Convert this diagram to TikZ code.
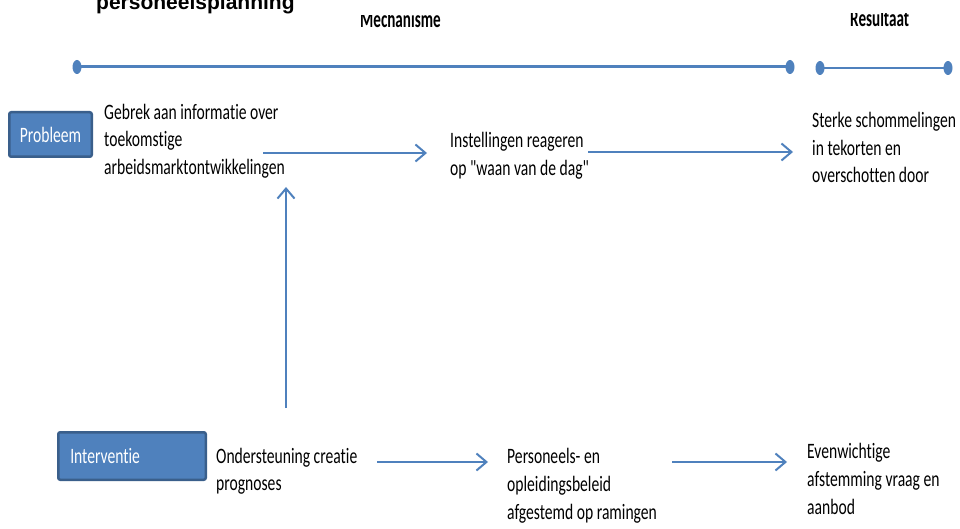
\documentclass[tikz,border=0pt]{standalone}
\usepackage{fontspec}
\setmainfont{Carlito}
\newfontfamily\cond[FakeStretch=0.71,Ligatures=NoCommon]{Carlito}
\newfontfamily\condh[FakeStretch=0.63,Ligatures=NoCommon]{Carlito}
\newfontfamily\arialb{Liberation Sans}
\usetikzlibrary{arrows.meta,shapes.geometric}
\definecolor{ob}{HTML}{4F81BD}
\definecolor{obd}{HTML}{3A5F8B}
\newcommand\ml[1]{\begin{tabular}[t]{@{}l@{}}#1\end{tabular}}
\tikzset{
  dotnode/.style={shape=ellipse, fill=ob, inner sep=0pt, minimum width=9pt, minimum height=14pt},
  tline/.style={draw=ob, line width=3pt},
  boxnode/.style={draw=obd, line width=2.5pt, fill=ob, rounded corners=2pt, text=white,
    font=\cond\fontsize{22}{26}\selectfont, inner sep=0pt},
  txt/.style={anchor=base west, inner sep=0pt, font=\cond\fontsize{22}{27.5}\selectfont},
  txtlow/.style={anchor=base west, inner sep=0pt, font=\cond\fontsize{22}{28.3}\selectfont},
  head/.style={anchor=base west, inner sep=0pt, font=\condh\bfseries\fontsize{24}{28}\selectfont},
  arr/.style={draw=ob, line width=2pt, -{Straight Barb[length=10pt,width=17pt]}}
}
\begin{document}
\begin{tikzpicture}[x=1pt,y=-1pt]
\useasboundingbox (0,0) rectangle (960,529);
\clip (0,0) rectangle (960,529);

% headers (partly cut off, as in the reference)
\node[anchor=base west, inner sep=0pt, font=\arialb\bfseries\fontsize{21}{25}\selectfont] (h1) at (96,10) {personeelsplanning};
\begin{scope}
  \clip (300,15.5) rectangle (520,40);
  \node[head] (h2) at (360,28) {Mechanisme};
\end{scope}
\begin{scope}
  \clip (800,13.5) rectangle (960,40);
  \node[head] (h3) at (850,26.5) {Resultaat};
\end{scope}

% timelines
\node[dotnode] (d1) at (77,67) {};
\node[dotnode] (d2) at (790,67) {};
\draw[tline] (d1.center) -- (d2.center);
\node[dotnode] (d3) at (820,68) {};
\node[dotnode] (d4) at (948,68) {};
\draw[draw=ob, line width=2.5pt] (d3.center) -- (d4.center);

% boxes
\node[boxnode, minimum width=82.5pt, minimum height=44.5pt] (prob) at (50.5,134.5) {Probleem};
\node[boxnode, minimum width=147.5pt, minimum height=47.5pt, text width=123.5pt, align=left, inner xsep=12pt] (int) at (132,456) {Interventie};

% texts top row
\node[txt] (t1) at (104,119.5) {\ml{Gebrek aan informatie over\\toekomstige\\arbeidsmarktontwikkelingen}};
\node[txt] (t2) at (450,148) {\ml{Instellingen reageren\\op "waan van de dag"}};
\node[txt] (t3) at (812,128) {\ml{Sterke schommelingen\\in tekorten en\\overschotten door}};

% texts bottom row
\node[txt] (t4) at (216,463) {\ml{Ondersteuning creatie\\prognoses}};
\node[txtlow] (t5) at (507,463) {\ml{Personeels- en\\opleidingsbeleid\\afgestemd op ramingen}};
\node[txtlow] (t6) at (807,458) {\ml{Evenwichtige\\afstemming vraag en\\aanbod}};

% arrows
\coordinate (a1s) at (263,153);
\coordinate (a1e) at (427,153);
\coordinate (a2s) at (588,152);
\coordinate (a2e) at (793,152);
\coordinate (a3s) at (377,462);
\coordinate (a3e) at (488,462);
\coordinate (a4s) at (672,462);
\coordinate (a4e) at (787,462);
\coordinate (vs) at (286,408);
\coordinate (ve) at (286,187);
\draw[arr] (a1s) -- (a1e);
\draw[arr] (a2s) -- (a2e);
\draw[arr] (a3s) -- (a3e);
\draw[arr] (a4s) -- (a4e);
\draw[arr] (vs) -- (ve);
\end{tikzpicture}
\end{document}
